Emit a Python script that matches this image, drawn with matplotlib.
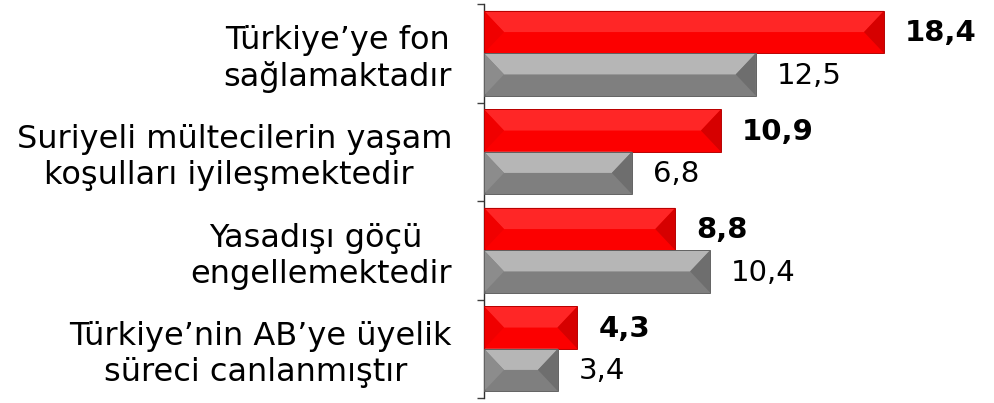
import matplotlib
matplotlib.use("Agg")
import matplotlib.pyplot as plt
from matplotlib.patches import Polygon
import numpy as np

categories = [
    "Türkiye’ye fon\nsağlamaktadır",
    "Suriyeli mültecilerin yaşam\nkoşulları iyileşmektedir ",
    "Yasadışı göçü \nengellemektedir",
    "Türkiye’nin AB’ye üyelik\nsüreci canlanmıştır ",
]
red_values = [18.4, 10.9, 8.8, 4.3]
gray_values = [12.5, 6.8, 10.4, 3.4]
red_labels = ["18,4", "10,9", "8,8", "4,3"]
gray_labels = ["12,5", "6,8", "10,4", "3,4"]

plt.rcParams["font.family"] = ["DejaVu Sans"]

fig = plt.figure(figsize=(9.94, 4.03), dpi=100)
ax = fig.add_axes([484 / 994, 5 / 403, 1 - 484 / 994, 394 / 403])

y = np.arange(len(categories))
h = 0.43
ax.set_xlim(0, 510 / 21.74)
ax.set_ylim(3.5, -0.5)


def bevel_bars(ys, vals, face, top, left, right, edge):
    # flat bar plus a bevel: light top band and shaded end triangles
    bars = ax.barh(ys, vals, height=h, color=face, edgecolor="none", zorder=2)
    bx = 20 / 21.74
    for b in bars:
        x0, y0 = b.get_x(), b.get_y()
        x1, y1 = x0 + b.get_width(), y0 + b.get_height()
        ym = (y0 + y1) / 2
        ax.add_patch(Polygon([(x0, y0), (x1, y0), (x1 - bx, ym), (x0 + bx, ym)],
                             closed=True, facecolor=top, edgecolor="none", zorder=3))
        ax.add_patch(Polygon([(x0, y0), (x0 + bx, ym), (x0, y1)],
                             closed=True, facecolor=left, edgecolor="none", zorder=3))
        ax.add_patch(Polygon([(x1, y0), (x1 - bx, ym), (x1, y1)],
                             closed=True, facecolor=right, edgecolor="none", zorder=3))
        ax.add_patch(plt.Rectangle((x0, y0), x1 - x0, y1 - y0, facecolor="none",
                                   edgecolor=edge, linewidth=0.7, zorder=4))
    return bars


red_bars = bevel_bars(y - h / 2, red_values, "#fc0000", "#ff2626", "#f00000", "#d60000", "#b80000")
gray_bars = bevel_bars(y + h / 2, gray_values, "#7f7f7f", "#b6b6b6", "#8c8c8c", "#6e6e6e", "#626262")

for b, lab in zip(red_bars, red_labels):
    ax.annotate(lab, (b.get_width(), b.get_y() + b.get_height() / 2), xytext=(15, -1),
                textcoords="offset points", va="center", ha="left",
                fontsize=21, fontweight="bold", color="black")
for b, lab in zip(gray_bars, gray_labels):
    ax.annotate(lab, (b.get_width(), b.get_y() + b.get_height() / 2), xytext=(15, -1),
                textcoords="offset points", va="center", ha="left",
                fontsize=21, color="black")

ax.set_yticks(y)
ax.set_yticklabels(categories, fontsize=23, multialignment="center")
ax.set_yticks(np.arange(-0.5, 4, 1), minor=True)
ax.tick_params(axis="y", which="major", length=0, pad=23)
ax.tick_params(axis="y", which="minor", length=5, width=1, color="#404040", direction="out")
ax.set_xticks([])
for s in ["top", "right", "bottom"]:
    ax.spines[s].set_visible(False)
ax.spines["left"].set_color("#303030")
ax.spines["left"].set_linewidth(1)

fig.savefig("out.png", dpi=100)
